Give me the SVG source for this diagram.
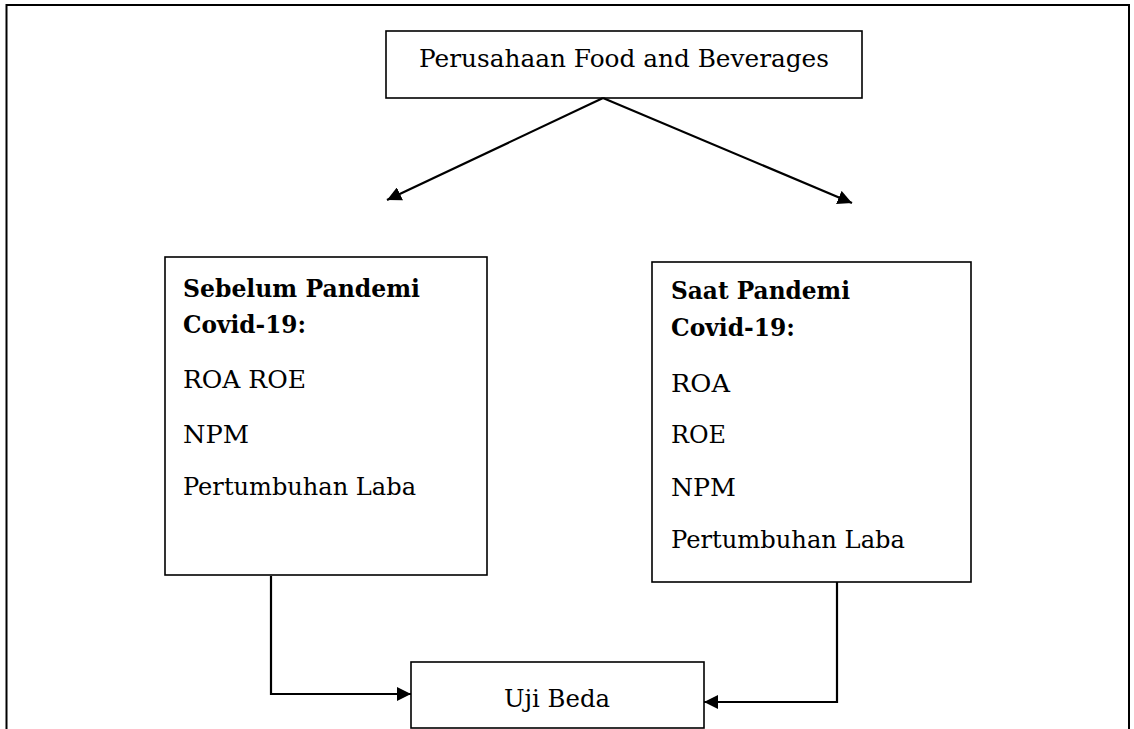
<svg xmlns="http://www.w3.org/2000/svg" width="1134" height="729" viewBox="0 0 1134 729">
<style>
.box{fill:#fff;stroke:#000;stroke-width:1.6}
.t{font-family:"DejaVu Serif","Liberation Serif",serif;font-size:24px;fill:#000}
.b{font-weight:bold}
.c{fill:none;stroke:#000;stroke-width:2.2}
</style>
<defs>
<marker id="ah" viewBox="0 0 10 10" refX="10" refY="5" markerWidth="6.5" markerHeight="6.5" markerUnits="strokeWidth" orient="auto">
<path d="M0,0 L10,5 L0,10 Z" fill="#000"/>
</marker>
</defs>
<rect width="1134" height="729" fill="#fff"/>
<path d="M6.5,729 V5 H1129 V729" fill="none" stroke="#000" stroke-width="2"/>
<g id="top">
<rect class="box" x="386" y="31" width="476" height="67"/>
<text class="t" x="624" y="67" text-anchor="middle" textLength="410" lengthAdjust="spacingAndGlyphs">Perusahaan Food and Beverages</text>
</g>
<g id="sebelum">
<rect class="box" x="165" y="257" width="322" height="318"/>
<text class="t b" x="183" y="297" textLength="237" lengthAdjust="spacingAndGlyphs">Sebelum Pandemi</text>
<text class="t b" x="183" y="333" textLength="123" lengthAdjust="spacingAndGlyphs">Covid-19:</text>
<text class="t" x="183" y="388" textLength="123" lengthAdjust="spacingAndGlyphs">ROA ROE</text>
<text class="t" x="183" y="443" textLength="66" lengthAdjust="spacingAndGlyphs">NPM</text>
<text class="t" x="183" y="495" textLength="233" lengthAdjust="spacingAndGlyphs">Pertumbuhan Laba</text>
</g>
<g id="saat">
<rect class="box" x="652" y="262" width="319" height="320"/>
<text class="t b" x="671" y="299" textLength="179" lengthAdjust="spacingAndGlyphs">Saat Pandemi</text>
<text class="t b" x="671" y="336" textLength="124" lengthAdjust="spacingAndGlyphs">Covid-19:</text>
<text class="t" x="671" y="392" textLength="59" lengthAdjust="spacingAndGlyphs">ROA</text>
<text class="t" x="671" y="443" textLength="55" lengthAdjust="spacingAndGlyphs">ROE</text>
<text class="t" x="671" y="496" textLength="65" lengthAdjust="spacingAndGlyphs">NPM</text>
<text class="t" x="671" y="548" textLength="234" lengthAdjust="spacingAndGlyphs">Pertumbuhan Laba</text>
</g>
<g id="uji">
<rect class="box" x="411" y="662" width="293" height="66"/>
<text class="t" x="557" y="707" text-anchor="middle" textLength="106" lengthAdjust="spacingAndGlyphs">Uji Beda</text>
</g>
<g id="connectors">
<path class="c" d="M603,98 L387,200" marker-end="url(#ah)"/>
<path class="c" d="M603,98 L852,203" marker-end="url(#ah)"/>
<path class="c" d="M271,576 V694 H411" marker-end="url(#ah)"/>
<path class="c" d="M837,582 V702 H704" marker-end="url(#ah)"/>
</g>
</svg>
